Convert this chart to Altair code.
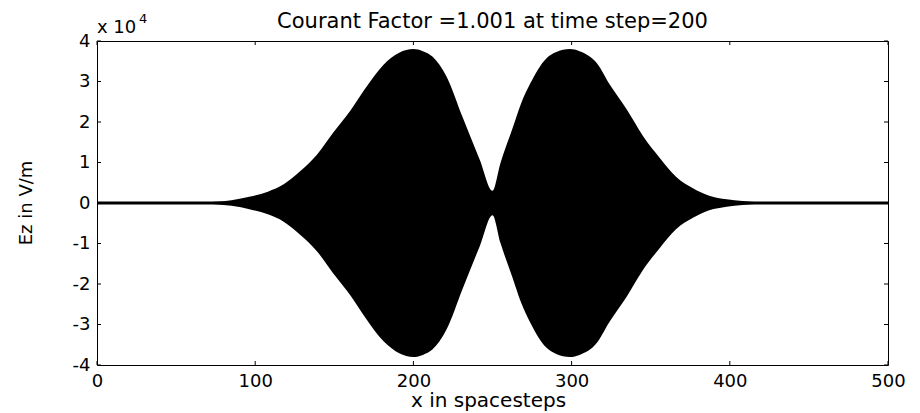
import altair as alt
import pandas as pd

# Envelope of Ez (units of 1e4 V/m)
x_steps = [0, 60, 75, 85, 97, 108, 118, 128, 139, 149, 160, 170, 181, 191, 200,
           206, 212, 221, 231, 242, 250, 255, 263, 268, 274, 284, 290, 299, 305,
           316, 324, 335, 345, 356, 366, 377, 387, 398, 408, 419, 430, 500]
ez_envelope = [0.0, 0.0, 0.03, 0.07, 0.16, 0.28, 0.46, 0.77, 1.19, 1.72, 2.27, 2.85, 3.41, 3.71, 3.80,
               3.75, 3.62, 3.12, 2.13, 1.06, 0.30, 0.98, 1.88, 2.45, 2.96, 3.57, 3.72, 3.80, 3.75,
               3.45, 2.93, 2.30, 1.66, 1.10, 0.65, 0.36, 0.18, 0.09, 0.05, 0.02, 0.0, 0.0]

x_ticks = [0, 100, 200, 300, 400, 500]
y_ticks = [-4, -3, -2, -1, 0, 1, 2, 3, 4]

title_text = "Courant Factor =1.001 at time step=200"
x_title = "x in spacesteps"
y_title = "Ez in V/m"
exp_base = "x 10"
exp_power = "4"

W, H = 791, 324
FONT = "DejaVu Sans"
TICK = 4

env_df = pd.DataFrame({"x": x_steps, "env": ez_envelope})
xs = alt.Scale(domain=[0, 500], nice=False, zero=False)
ys = alt.Scale(domain=[-4, 4], nice=False, zero=False)

AX = alt.Axis(values=x_ticks, ticks=False, grid=False, domain=False, title=None,
              labelFont=FONT, labelFontSize=18, labelColor="black", labelPadding=7,
              labelOverlap=False, labelFlush=False)
AY = alt.Axis(values=y_ticks, ticks=False, grid=False, domain=False, title=None,
              labelFont=FONT, labelFontSize=18, labelColor="black", labelPadding=7,
              labelOverlap=False, labelFlush=False, labelExpr="datum.value + ''")

area = alt.Chart(env_df).transform_calculate(neg="-datum.env").mark_area(
    color="black", interpolate="monotone"
).encode(
    x=alt.X("x:Q", scale=xs, axis=AX),
    y=alt.Y("env:Q", scale=ys, axis=AY),
    y2="neg:Q",
)

zero_line = alt.Chart(env_df).mark_line(color="black", strokeWidth=3).encode(
    x=alt.X("x:Q", scale=xs, axis=AX),
    y=alt.Y(datum=0, scale=ys, axis=AY),
)

xt = pd.DataFrame({"t": x_ticks})
yt = pd.DataFrame({"t": y_ticks})
tick_bottom = alt.Chart(xt).mark_rule(color="black", strokeWidth=1).encode(
    x=alt.X("t:Q", scale=xs, axis=AX), y=alt.value(H), y2=alt.value(H - TICK))
tick_top = alt.Chart(xt).mark_rule(color="black", strokeWidth=1).encode(
    x=alt.X("t:Q", scale=xs, axis=AX), y=alt.value(0), y2=alt.value(TICK))
tick_left = alt.Chart(yt).mark_rule(color="black", strokeWidth=1).encode(
    y=alt.Y("t:Q", scale=ys, axis=AY), x=alt.value(0), x2=alt.value(TICK))
tick_right = alt.Chart(yt).mark_rule(color="black", strokeWidth=1).encode(
    y=alt.Y("t:Q", scale=ys, axis=AY), x=alt.value(W), x2=alt.value(W - TICK))


def label(txt, x, y, size, align="center", baseline="alphabetic", angle=0):
    return alt.Chart(pd.DataFrame({"t": [txt]})).mark_text(
        font=FONT, fontSize=size, color="black", align=align,
        baseline=baseline, angle=angle
    ).encode(text="t:N", x=alt.value(x), y=alt.value(y))


title = label(title_text, W / 2, -13, 21)
xlab = label(x_title, W / 2 - 4, 366, 20)
ylab = label(y_title, -70, H / 2, 18, baseline="middle", angle=270)
exp1 = label(exp_base, 0, -8, 18, align="left")
exp2 = label(exp_power, 42, -18, 13, align="left")

chart = alt.layer(
    area, zero_line, tick_bottom, tick_top, tick_left, tick_right,
    title, xlab, ylab, exp1, exp2
).properties(
    width=W, height=H,
    autosize=alt.AutoSizeParams(type="none"),
    padding={"left": 89, "top": 33, "right": 24, "bottom": 48},
    background="white",
).configure_view(stroke="black", strokeWidth=1)

chart.save("out.html", embed_options={"renderer": "svg", "actions": False})
